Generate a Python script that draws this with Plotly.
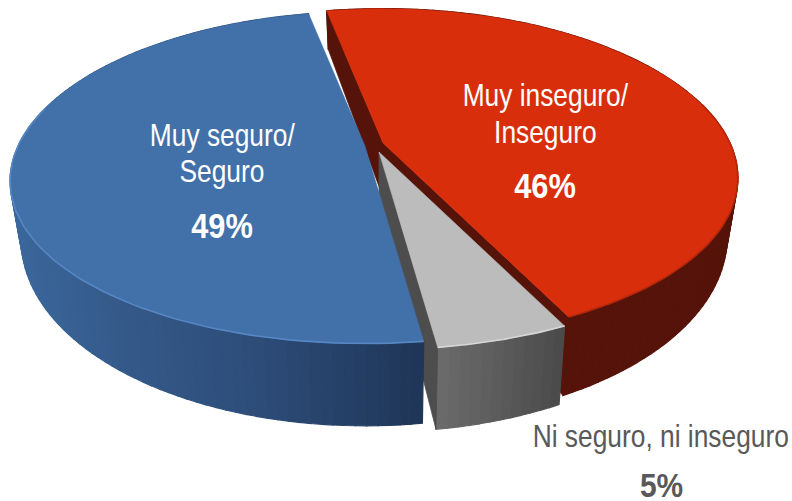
import math
import plotly.graph_objects as go

categories = ["Muy inseguro/Inseguro", "Ni seguro, ni inseguro", "Muy seguro/Seguro"]
values = [46, 5, 49]
value_labels = ["46%", "5%", "49%"]

# styling / projection
W, H = 792, 501
START = 101.3
RX, RY, KX, KY, DEPTH, XSHRINK, XC = 347, 160, 0.21, 0.19, 54, 0.97, 380
APEX = {0: (383, 143), 1: (379, 152), 2: (365, 146)}
TOP = {0: "#d92e0c", 1: "#bcbcbc", 2: "#4270a8"}
WALL = {0: "#56130a", 1: "#4d4d4d", 2: "#1f3557"}
RIM = {0: "#b52609", 1: "#d6d6d6", 2: "#5687c4"}
SIDE = {
    0: [(0, "#56130a"), (1, "#56130a")],
    1: [(0, "#6c6c6c"), (1, "#4a4a4a")],
    2: [(0, "#3b679c"), (0.25, "#355a8a"), (0.6, "#2d4c78"), (1, "#1f3557")],
}


def top_pt(i, deg):
    t = math.radians(deg)
    return (APEX[i][0] + RX * math.cos(t) / (1 + KX * math.sin(t)),
            APEX[i][1] - RY * math.sin(t) / (1 + KY * math.sin(t)))


def bot_pt(i, deg):
    x, y = top_pt(i, deg)
    s = 1 / (1 + KY * math.sin(math.radians(deg)))
    return XC + XSHRINK * (x - XC), y + DEPTH * s * s


def mix(stops, f):
    for (a, ca), (b, cb) in zip(stops, stops[1:]):
        if f <= b:
            u = (f - a) / (b - a) if b > a else 0
            rgb = [int(ca[j:j + 2], 16) * (1 - u) + int(cb[j:j + 2], 16) * u for j in (1, 3, 5)]
            return "rgb(%d,%d,%d)" % tuple(round(v) for v in rgb)
    return stops[-1][1]


def poly(pts, color, lw=0.8):
    xs = [p[0] for p in pts] + [pts[0][0]]
    ys = [p[1] for p in pts] + [pts[0][1]]
    return go.Scatter(x=xs, y=ys, mode="lines", fill="toself", fillcolor=color,
                      line=dict(color=color, width=lw), hoverinfo="skip", showlegend=False)


total = sum(values)
spans = []
a = START
for v in values:
    b = a - 360 * v / total
    spans.append((a, b))
    a = b

fig = go.Figure()
for i, (a, b) in enumerate(spans):
    n = max(6, int((a - b) / 1.5))
    angs = [a + (b - a) * j / n for j in range(n + 1)]
    # side wall, shaded by screen x
    xs_all = [top_pt(i, d)[0] for d in angs]
    lo, hi = min(xs_all), max(xs_all)
    for d0, d1 in zip(angs, angs[1:]):
        xm = (top_pt(i, d0)[0] + top_pt(i, d1)[0]) / 2
        fig.add_trace(poly([top_pt(i, d0), top_pt(i, d1), bot_pt(i, d1), bot_pt(i, d0)],
                           mix(SIDE[i], (xm - lo) / (hi - lo)), 1.2))
    # cut faces
    ap = APEX[i]
    ap_b = (XC + XSHRINK * (ap[0] - XC), ap[1] + DEPTH)
    if i == 0:
        fig.add_trace(poly([top_pt(i, a), ap, ap_b, bot_pt(i, a)], WALL[i]))
        fig.add_trace(poly([top_pt(i, b), ap, ap_b, bot_pt(i, b)], WALL[i]))
    if i == 1:
        fig.add_trace(poly([top_pt(i, b), ap, ap_b, bot_pt(i, b)], WALL[i]))
    # top face
    fine = [a + (b - a) * j / 120 for j in range(121)]
    fig.add_trace(poly([ap] + [top_pt(i, d) for d in fine], TOP[i], 0.5))
    # bevel rim on the front part of the arc
    rim = [d for d in fine if math.sin(math.radians(d)) < 0.25]
    fig.add_trace(go.Scatter(x=[top_pt(i, d)[0] for d in rim], y=[top_pt(i, d)[1] for d in rim],
                             mode="lines", line=dict(color=RIM[i], width=1.6),
                             hoverinfo="skip", showlegend=False))


def label(x, y, text, size, color, bold=False):
    fig.add_annotation(x=x, y=y, text=f"<b>{text}</b>" if bold else text, showarrow=False,
                       xanchor="center", yanchor="middle",
                       font=dict(family="Liberation Sans", size=size, color=color))


label(222, 135, categories[2].split("/")[0] + "/", 31, "#ffffff")
label(222, 171, categories[2].split("/")[1], 31, "#ffffff")
label(222, 225, value_labels[2], 35, "#ffffff", True)
label(545, 95, categories[0].split("/")[0] + "/", 31, "#ffffff")
label(545, 132, categories[0].split("/")[1], 31, "#ffffff")
label(545, 185, value_labels[0], 35, "#ffffff", True)
label(661, 436, categories[1], 31, "#595959")
label(661, 485, value_labels[1], 34, "#595959", True)

fig.update_layout(
    width=W, height=H, margin=dict(l=0, r=0, t=0, b=0),
    paper_bgcolor="white", plot_bgcolor="white", showlegend=False,
    xaxis=dict(range=[0, W], visible=False, fixedrange=True),
    yaxis=dict(range=[H, 0], visible=False, fixedrange=True),
)
POST = """
document.body.style.margin = '0';
document.body.style.overflow = 'hidden';
document.querySelectorAll('text.annotation-text').forEach(function (t) {
  var x = parseFloat(t.getAttribute('x')) || 0;
  var k = /%/.test(t.textContent) ? 0.88 : 0.85;
  var old = t.getAttribute('transform') || '';
  t.setAttribute('transform', old + ' translate(' + x + ',0) scale(' + k + ',1) translate(' + (-x) + ',0)');
});
"""
fig.write_html("out.html", config=dict(displayModeBar=False), post_script=POST)
